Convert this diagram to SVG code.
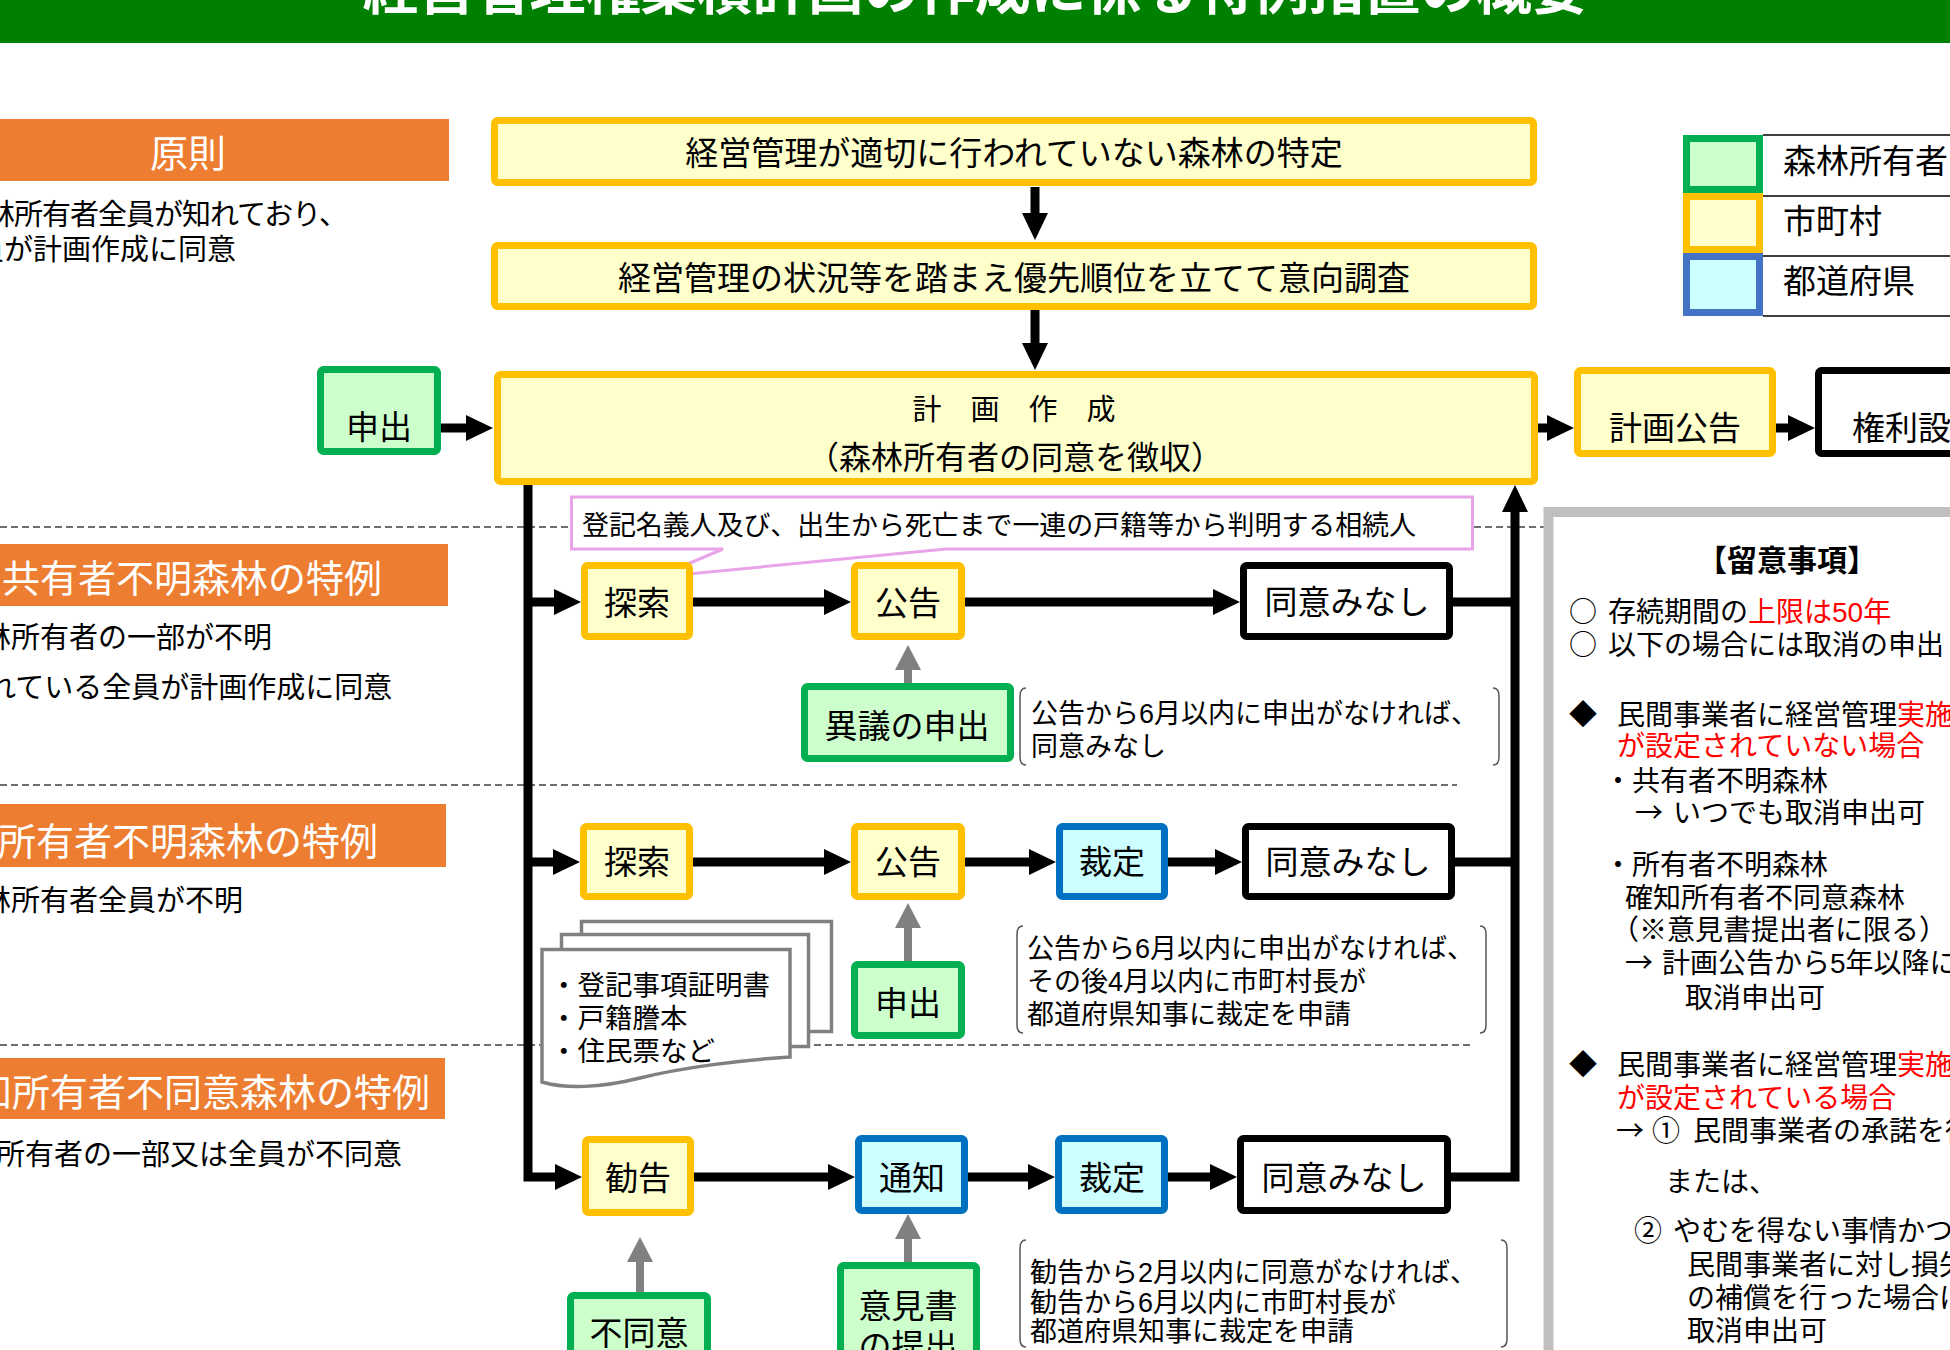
<svg xmlns="http://www.w3.org/2000/svg" width="1950" height="1350" viewBox="0 0 1950 1350">
<defs>
<style>
text{font-family:"Liberation Sans","Noto Sans CJK JP",sans-serif;fill:#000}
.cjk{font-family:"Noto Sans CJK JP",sans-serif}
.ttl{font-size:56px;font-weight:bold;fill:#fff}
.hdr{fill:#ED7D31}
.ht{font-size:38px;fill:#fff}
.bd{font-size:29px}
.y{fill:#FFFFCC;stroke:#FFC000;stroke-width:7}
.g{fill:#CCFFCC;stroke:#00B050;stroke-width:7}
.b{fill:#CCFFFF;stroke:#0070C0;stroke-width:7}
.k{fill:#fff;stroke:#000;stroke-width:7}
.lb{font-size:33px;text-anchor:middle}
.big{font-size:32px;text-anchor:middle}
.ln{fill:none;stroke:#000;stroke-width:9}
.gl{fill:none;stroke:#808080;stroke-width:8}
.ds{fill:none;stroke:#404040;stroke-width:1.3;stroke-dasharray:7 4}
.nt{font-size:27px}
.br{fill:none;stroke:#555;stroke-width:1.5}
.pg{fill:#fff;stroke:#808080;stroke-width:3.5}
.pn{font-size:28px}
.red{fill:#FF0000}
</style>
<marker id="ah" markerUnits="userSpaceOnUse" markerWidth="28" markerHeight="26" refX="7" refY="13" orient="auto"><path d="M0,0L27,13L0,26Z" fill="#000"/></marker>
<marker id="ahg" markerUnits="userSpaceOnUse" markerWidth="26" markerHeight="26" refX="6" refY="13" orient="auto"><path d="M0,0L25,13L0,26Z" fill="#808080"/></marker>
</defs>
<rect x="0" y="0" width="1950" height="1350" fill="#fff"/>

<g id="title">
<rect x="0" y="0" width="1950" height="43" fill="#008000"/>
<text class="ttl" x="975" y="9" text-anchor="middle" textLength="1225">経営管理権集積計画の作成に係る特例措置の概要</text>
</g>

<g id="hdr-gensoku">
<rect class="hdr" x="0" y="119" width="449" height="62"/>
<text class="ht" x="188" y="167" text-anchor="middle">原則</text>
<text class="bd" x="-42" y="225" textLength="390">森林所有者全員が知れており、</text>
<text class="bd" x="-54" y="260">全員が計画作成に同意</text>
</g>
<g id="hdr-kyoyu">
<rect class="hdr" x="0" y="544" width="448" height="62"/>
<text class="ht" x="2" y="592">共有者不明森林の特例</text>
<text class="bd" x="-47" y="648">森林所有者の一部が不明</text>
<text class="bd" x="-42" y="698">知れている全員が計画作成に同意</text>
</g>
<g id="hdr-fumei">
<rect class="hdr" x="0" y="804" width="446" height="63"/>
<text class="ht" x="-2" y="855">所有者不明森林の特例</text>
<text class="bd" x="-47" y="911">森林所有者全員が不明</text>
</g>
<g id="hdr-fudoi">
<rect class="hdr" x="0" y="1058" width="445" height="61"/>
<text class="ht" x="-64" y="1106">確知所有者不同意森林の特例</text>
<text class="bd" x="-62" y="1165">確知所有者の一部又は全員が不同意</text>
</g>

<g id="separators">
<path class="ds" d="M0,527H1545M0,785H1457M0,1045H1472"/>
</g>

<g id="connectors">
<path class="ln" d="M1035,187V220" marker-end="url(#ah)"/>
<path class="ln" d="M1035,310V350" marker-end="url(#ah)"/>
<path class="ln" d="M441,428H473" marker-end="url(#ah)"/>
<path class="ln" d="M1538,428H1554" marker-end="url(#ah)"/>
<path class="ln" d="M1776,428H1795" marker-end="url(#ah)"/>
<path class="ln" d="M528,485V1177H562" marker-end="url(#ah)"/>
<path class="ln" d="M528,602H561" marker-end="url(#ah)"/>
<path class="ln" d="M528,862H560" marker-end="url(#ah)"/>
<path class="ln" d="M693,602H831" marker-end="url(#ah)"/>
<path class="ln" d="M965,602H1220" marker-end="url(#ah)"/>
<path class="ln" d="M1453,602H1515"/>
<path class="ln" d="M693,862H831" marker-end="url(#ah)"/>
<path class="ln" d="M965,862H1036" marker-end="url(#ah)"/>
<path class="ln" d="M1168,862H1222" marker-end="url(#ah)"/>
<path class="ln" d="M1455,862H1515"/>
<path class="ln" d="M694,1177H835" marker-end="url(#ah)"/>
<path class="ln" d="M968,1177H1035" marker-end="url(#ah)"/>
<path class="ln" d="M1168,1177H1217" marker-end="url(#ah)"/>
<path class="ln" d="M1451,1177H1515V505" marker-end="url(#ah)"/>
<path class="gl" d="M908,683V664" marker-end="url(#ahg)"/>
<path class="gl" d="M908,961V922" marker-end="url(#ahg)"/>
<path class="gl" d="M908,1262V1233" marker-end="url(#ahg)"/>
<path class="gl" d="M640,1292V1256" marker-end="url(#ahg)"/>
</g>

<g id="n-tokutei">
<rect class="y" x="494.5" y="120.5" width="1039" height="62" rx="3"/>
<text class="lb" x="1014" y="165">経営管理が適切に行われていない森林の特定</text>
</g>
<g id="n-ikochosa">
<rect class="y" x="494.5" y="245.5" width="1039" height="61" rx="3"/>
<text class="lb" x="1014" y="290">経営管理の状況等を踏まえ優先順位を立てて意向調査</text>
</g>
<g id="n-keikaku">
<rect class="y" x="497.5" y="374.5" width="1037" height="107" rx="3"/>
<text x="1014" y="420" font-size="29" text-anchor="middle">計　画　作　成</text>
<text class="big" x="1015" y="469">（森林所有者の同意を徴収）</text>
</g>
<g id="n-moshide0">
<rect class="g" x="320.5" y="369.5" width="117" height="82" rx="3"/>
<text class="lb" x="379" y="439">申出</text>
</g>
<g id="n-koukoku">
<rect class="y" x="1577.5" y="370.5" width="195" height="83" rx="3"/>
<text class="lb" x="1675" y="440">計画公告</text>
</g>
<g id="n-kenri">
<rect class="k" x="1818.5" y="370.5" width="200" height="83" rx="3"/>
<text x="1852" y="440" font-size="33">権利設定</text>
</g>

<g id="legend">
<rect class="g" x="1686.5" y="138.5" width="73" height="51"/>
<rect class="y" x="1686.5" y="196.5" width="73" height="53"/>
<rect class="b" x="1686.5" y="256.5" width="73" height="56" style="stroke:#4472C4"/>
<path d="M1763,135H1950M1763,196H1950M1763,256H1950M1763,316H1950" stroke="#000" stroke-width="1.5" fill="none"/>
<text x="1783" y="173" font-size="33">森林所有者</text>
<text x="1783" y="233" font-size="33">市町村</text>
<text x="1783" y="293" font-size="33">都道府県</text>
</g>

<g id="callout">
<path d="M571.5,497H1472.5V549H946L657,577L723,549H571.5Z" fill="#fff" stroke="#E9A3E9" stroke-width="3"/>
<text class="nt" x="582" y="535" textLength="834">登記名義人及び、出生から死亡まで一連の戸籍等から判明する相続人</text>
</g>

<g id="r1-tansaku"><rect class="y" x="584.5" y="565.5" width="105" height="71" rx="3"/><text class="lb" x="637" y="615">探索</text></g>
<g id="r1-koukoku"><rect class="y" x="854.5" y="565.5" width="107" height="71" rx="3"/><text class="lb" x="908" y="615">公告</text></g>
<g id="r1-minashi"><rect class="k" x="1243.5" y="565.5" width="206" height="71" rx="3"/><text class="lb" x="1347" y="614">同意みなし</text></g>
<g id="r1-igi"><rect class="g" x="804.5" y="686.5" width="206" height="72" rx="3"/><text class="lb" x="907" y="738">異議の申出</text></g>
<g id="r1-note">
<path class="br" d="M1026,688Q1020,688 1020,696V757Q1020,765 1026,765M1493,688Q1499,688 1499,696V757Q1499,765 1493,765"/>
<text class="nt" x="1031" y="723">公告から6月以内に申出がなければ、</text>
<text class="nt" x="1031" y="756">同意みなし</text>
</g>

<g id="r2-tansaku"><rect class="y" x="583.5" y="826.5" width="106" height="70" rx="3"/><text class="lb" x="637" y="874">探索</text></g>
<g id="r2-koukoku"><rect class="y" x="854.5" y="826.5" width="107" height="70" rx="3"/><text class="lb" x="908" y="874">公告</text></g>
<g id="r2-saitei"><rect class="b" x="1059.5" y="826.5" width="105" height="70" rx="3"/><text class="lb" x="1112" y="874">裁定</text></g>
<g id="r2-minashi"><rect class="k" x="1245.5" y="826.5" width="206" height="70" rx="3"/><text class="lb" x="1348" y="874">同意みなし</text></g>
<g id="r2-moshide"><rect class="g" x="854.5" y="964.5" width="107" height="71" rx="3"/><text class="lb" x="908" y="1015">申出</text></g>
<g id="r2-docs">
<rect class="pg" x="581.5" y="921.5" width="250" height="110"/>
<rect class="pg" x="561.5" y="934.5" width="247" height="112"/>
<path class="pg" d="M542,949.5H790V1057C740,1060 680,1068 640,1078C600,1088 565,1089 542,1082Z"/>
<text x="550" y="995" font-size="27.5">・登記事項証明書</text>
<text x="550" y="1028" font-size="27.5">・戸籍謄本</text>
<text x="550" y="1061" font-size="27.5">・住民票など</text>
</g>
<g id="r2-note">
<path class="br" d="M1023,926Q1017,926 1017,934V1025Q1017,1033 1023,1033M1480,926Q1486,926 1486,934V1025Q1486,1033 1480,1033"/>
<text class="nt" x="1027" y="958">公告から6月以内に申出がなければ、</text>
<text class="nt" x="1027" y="991">その後4月以内に市町村長が</text>
<text class="nt" x="1027" y="1024">都道府県知事に裁定を申請</text>
</g>

<g id="r3-kankoku"><rect class="y" x="585.5" y="1139.5" width="105" height="73" rx="3"/><text class="lb" x="638" y="1190">勧告</text></g>
<g id="r3-tsuchi"><rect class="b" x="858.5" y="1138.5" width="106" height="72" rx="3"/><text class="lb" x="912" y="1190">通知</text></g>
<g id="r3-saitei"><rect class="b" x="1058.5" y="1138.5" width="106" height="72" rx="3"/><text class="lb" x="1112" y="1190">裁定</text></g>
<g id="r3-minashi"><rect class="k" x="1240.5" y="1138.5" width="207" height="72" rx="3"/><text class="lb" x="1344" y="1190">同意みなし</text></g>
<g id="r3-iken"><rect class="g" x="840.5" y="1265.5" width="136" height="120" rx="3"/><text class="lb" x="908" y="1318">意見書</text><text class="lb" x="908" y="1358">の提出</text></g>
<g id="r3-fudoi"><rect class="g" x="570.5" y="1295.5" width="137" height="90" rx="3"/><text class="lb" x="639" y="1345">不同意</text></g>
<g id="r3-note">
<path class="br" d="M1026,1240Q1020,1240 1020,1248V1339Q1020,1347 1026,1347M1501,1240Q1507,1240 1507,1248V1339Q1507,1347 1501,1347"/>
<text class="nt" x="1030" y="1282">勧告から2月以内に同意がなければ、</text>
<text class="nt" x="1030" y="1312">勧告から6月以内に市町村長が</text>
<text class="nt" x="1030" y="1341">都道府県知事に裁定を申請</text>
</g>

<g id="notes-panel">
<rect x="1548.5" y="512" width="500" height="900" fill="#fff" stroke="#BFBFBF" stroke-width="10"/>
<text x="1787" y="571" font-size="30" font-weight="bold" text-anchor="middle">【留意事項】</text>
<text class="pn cjk" x="1569" y="622">○</text>
<text class="pn" x="1608" y="622">存続期間の<tspan class="red">上限は50年</tspan></text>
<text class="pn cjk" x="1569" y="655">○</text>
<text class="pn" x="1608" y="655">以下の場合には取消の申出</text>
<text class="pn cjk" x="1569" y="725">◆</text>
<text class="pn" x="1617" y="725">民間事業者に経営管理<tspan class="red">実施権</tspan></text>
<text class="pn red" x="1617" y="756">が設定されていない場合</text>
<text class="pn" x="1604" y="791">・共有者不明森林</text>
<text class="pn cjk" x="1635" y="823">→</text>
<text class="pn" x="1673" y="823">いつでも取消申出可</text>
<text class="pn" x="1604" y="875">・所有者不明森林</text>
<text class="pn" x="1625" y="908">確知所有者不同意森林</text>
<text class="pn" x="1611" y="940">（※意見書提出者に限る）</text>
<text class="pn cjk" x="1625" y="973">→</text>
<text class="pn" x="1662" y="973">計画公告から5年以降に</text>
<text class="pn" x="1685" y="1008">取消申出可</text>
<text class="pn cjk" x="1569" y="1075">◆</text>
<text class="pn" x="1617" y="1075">民間事業者に経営管理<tspan class="red">実施権</tspan></text>
<text class="pn red" x="1617" y="1108">が設定されている場合</text>
<text class="pn cjk" x="1616" y="1141">→</text>
<text class="pn cjk" x="1652" y="1141">①</text>
<text class="pn" x="1693" y="1141">民間事業者の承諾を得た場合</text>
<text class="pn" x="1665" y="1192">または、</text>
<text class="pn cjk" x="1634" y="1241">②</text>
<text class="pn" x="1673" y="1241">やむを得ない事情かつ</text>
<text class="pn" x="1687" y="1275">民間事業者に対し損失</text>
<text class="pn" x="1687" y="1308">の補償を行った場合に</text>
<text class="pn" x="1687" y="1341">取消申出可</text>
</g>
</svg>
